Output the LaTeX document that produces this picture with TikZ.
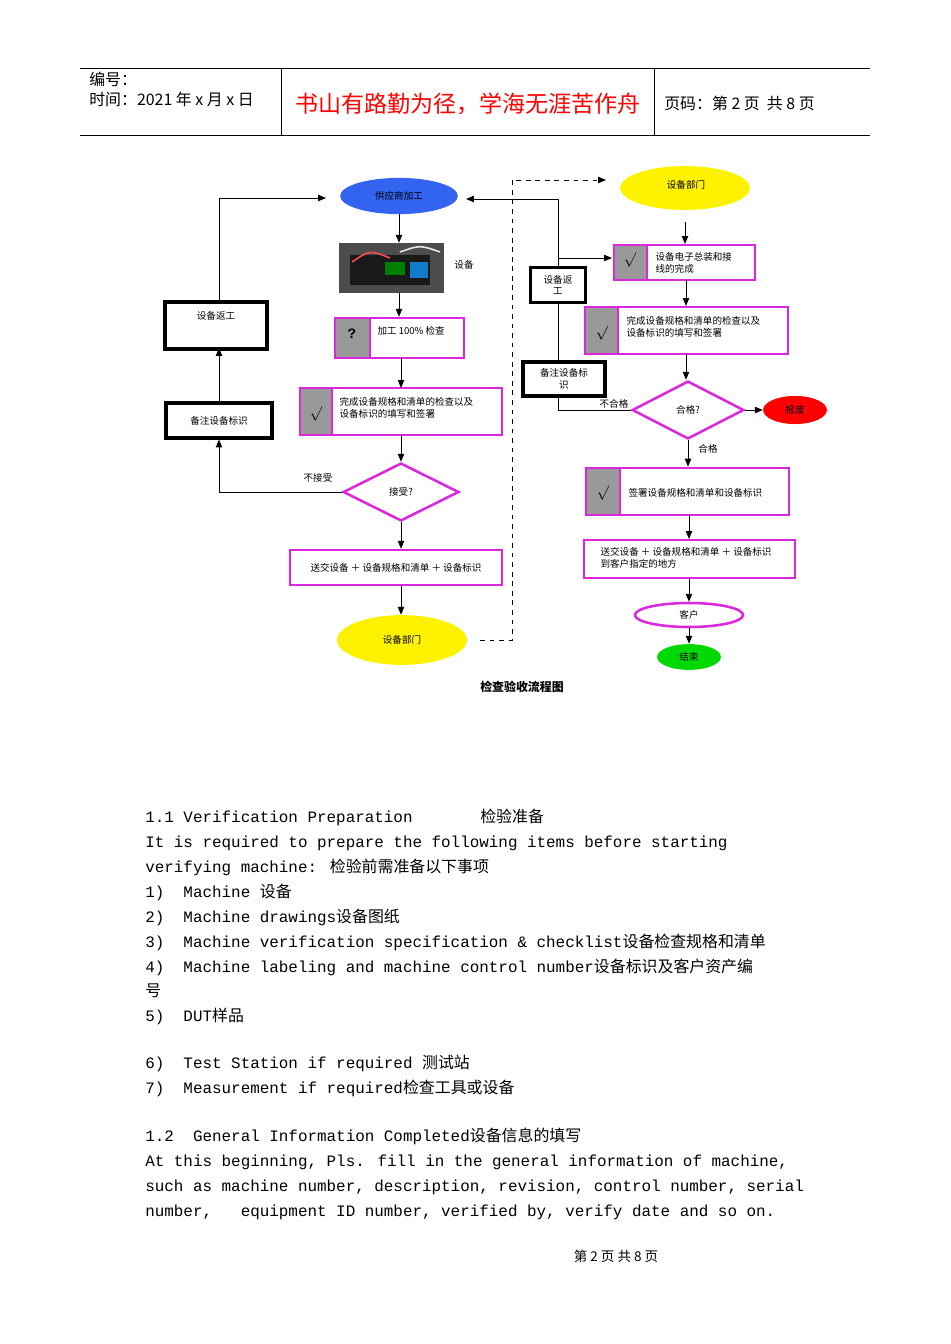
\documentclass[tikz,border=0pt]{standalone}
\usepackage{fontspec}
\setmainfont{Liberation Mono}
\newfontfamily\cjk{Noto Sans CJK SC}
\newcommand\zh[1]{{\cjk #1}}
\usetikzlibrary{shapes.geometric,arrows.meta}
\definecolor{mag}{RGB}{220,40,220}
\definecolor{fblue}{RGB}{50,100,240}
\begin{document}
\begin{tikzpicture}[x=0.0221cm,y=-0.0221cm,
  ft/.style={font=\cjk\fontsize{6}{7.5}\selectfont},
  arr/.style={-{Triangle[length=5pt,width=4pt]},line width=0.6pt},
  ln/.style={line width=0.6pt},
  mbox/.style={draw=mag,line width=1.6pt,fill=white},
  kbox/.style={draw=black,line width=2pt,fill=white},
  gcell/.style={fill=gray!80,draw=none},
  body/.style={anchor=base west,inner sep=0,font=\fontsize{10}{12}\selectfont}]
\useasboundingbox (0,0) rectangle (950,1344);
% header
\draw[line width=0.5pt] (80,68)--(870,68) (80,135)--(870,135) (281,68)--(281,135) (654,68)--(654,135);
\node[anchor=west,inner sep=0,font=\cjk\fontsize{10}{12}\selectfont] at (89,79) {编号：};
\node[anchor=west,inner sep=0,font=\cjk\fontsize{10}{12}\selectfont] at (89,99) {时间：2021 年 x 月 x 日};
\node[inner sep=0,text=red,font=\cjk\fontsize{14.5}{16}\selectfont] at (468,104) {书山有路勤为径，学海无涯苦作舟};
\node[anchor=west,inner sep=0,font=\cjk\fontsize{10}{12}\selectfont] at (664,103) {页码：第 2 页\ \ 共 8 页};
% left column
\node[ellipse,fill=fblue,inner sep=0,minimum width=2.6cm,minimum height=0.8cm,ft] (sup) at (399,196) {供应商加工};
\node[fill=black!70,minimum width=2.32cm,minimum height=1.1cm,inner sep=0] (ph) at (391,268) {};
\fill[black!90] (350,255) rectangle (430,285);
\fill[green!50!black] (385,262) rectangle (405,275);
\fill[cyan!60!blue] (410,262) rectangle (428,278);
\draw[red!70,line width=1pt] (352,262) .. controls (370,250) .. (390,258);
\draw[white!80!gray,line width=1pt] (400,252) .. controls (420,245) .. (440,252);
\node[ft] (phl) at (464,265) {设备};
\node[mbox,minimum width=2.85cm,minimum height=0.88cm,inner sep=0] (b1) at (399.5,338) {};
\fill[gcell] (336,319) rectangle (370,357);
\draw[mag,line width=1.6pt] (370,318)--(370,358);
\node[font=\bfseries\fontsize{9}{9}\selectfont,inner sep=0] (q) at (352,334) {?};
\node[ft,anchor=west] at (372,331) {加工 100\% 检查};
\node[mbox,minimum width=4.46cm,minimum height=1.04cm,inner sep=0] (b2) at (401,411.5) {};
\fill[gcell] (301,389) rectangle (332,434);
\draw[mag,line width=1.6pt] (332,388)--(332,435);
\node[inner sep=0,font=\fontsize{9}{9}\selectfont] at (316,414) {$\surd$};
\node[ft,anchor=west,align=left] at (334,408) {完成设备规格和清单的检查以及\\设备标识的填写和签署};
\node[diamond,draw=mag,line width=1.6pt,fill=white,minimum width=2.56cm,minimum height=1.28cm,inner sep=0,aspect=2,ft] (d1) at (401,492) {接受?};
\node[mbox,minimum width=4.68cm,minimum height=0.77cm,inner sep=0,ft] (b3) at (396,567.5) {送交设备 ＋ 设备规格和清单 ＋ 设备标识};
\node[ellipse,fill=yellow,minimum width=2.87cm,minimum height=1.1cm,inner sep=0,ft] (y1) at (402,640) {设备部门};
\draw[arr] (sup.south)--(sup.south|-ph.north);
\draw[arr] (sup.south|-ph.south)--(sup.south|-b1.north);
\draw[arr] (401,358)--(401,388);
\draw[arr] (401,435)--(d1.north);
\draw[arr] (d1.south)--(d1.south|-b3.north);
\draw[arr] (d1.south|-b3.south)--(d1.south|-y1.north);
\node[kbox,minimum width=2.25cm,minimum height=1.04cm,inner sep=0] (rw) at (216,325.5) {};
\node[ft] at (216,316) {设备返工};
\node[kbox,minimum width=2.34cm,minimum height=0.77cm,inner sep=0,ft] (nt) at (219,420.5) {备注设备标识};
\draw[arr] (d1.west)--(219,492)--(nt.south);
\node[ft] at (318,478) {不接受};
\draw[arr] (nt.north)--(219,348);
\draw[arr] (219,302)--(219,198)--(326,198);
\draw[ln,dashed,-{Triangle[length=5pt,width=4pt]}] (480,640)--(512,640)--(512,180)--(606,180);
% right column
\node[ellipse,fill=yellow,minimum width=2.87cm,minimum height=0.97cm,inner sep=0] (y2) at (685,188) {};
\node[ft] at (686,185) {设备部门};
\node[mbox,minimum width=3.11cm,minimum height=0.77cm,inner sep=0] (r1) at (684.5,262.5) {};
\fill[gcell] (615,246) rectangle (647,279);
\draw[mag,line width=1.6pt] (647,245)--(647,280);
\node[inner sep=0,font=\fontsize{9}{9}\selectfont] at (630,260) {$\surd$};
\node[ft,anchor=west,align=left] at (650,263) {设备电子总装和接\\线的完成};
\node[mbox,minimum width=4.49cm,minimum height=1.04cm,inner sep=0] (r2) at (686.5,330.5) {};
\fill[gcell] (586,308) rectangle (618,353);
\draw[mag,line width=1.6pt] (618,307)--(618,354);
\node[inner sep=0,font=\fontsize{9}{9}\selectfont] at (602,333) {$\surd$};
\node[ft,anchor=west,align=left] at (621,327) {完成设备规格和清单的检查以及\\设备标识的填写和签署};
\node[diamond,draw=mag,line width=1.6pt,fill=white,minimum width=2.47cm,minimum height=1.28cm,inner sep=0,aspect=2,ft] (d2) at (688,410) {合格?};
\node[ellipse,fill=red,minimum width=1.41cm,minimum height=0.62cm,inner sep=0,ft] (sc) at (795,410) {报废};
\node[mbox,minimum width=4.49cm,minimum height=1.04cm,inner sep=0] (r3) at (687.5,491.5) {};
\fill[gcell] (587,469) rectangle (620,514);
\draw[mag,line width=1.6pt] (620,468)--(620,515);
\node[inner sep=0,font=\fontsize{9}{9}\selectfont] at (603,493) {$\surd$};
\node[ft,anchor=west] at (623,493) {签署设备规格和清单和设备标识};
\node[mbox,minimum width=4.66cm,minimum height=0.84cm,inner sep=0] (r4) at (689.5,559) {};
\node[ft,anchor=west,align=left] at (595,558) {送交设备 ＋ 设备规格和清单 ＋ 设备标识\\到客户指定的地方};
\node[ellipse,draw=mag,line width=1.6pt,fill=white,minimum width=2.39cm,minimum height=0.53cm,inner sep=0,ft] (cu) at (689,615) {客户};
\node[ellipse,fill=green!85!black,minimum width=1.41cm,minimum height=0.57cm,inner sep=0,ft] (en) at (689,657) {结束};
\draw[arr] (685,222)--(685,244);
\draw[arr] (686,280)--(686,306);
\draw[arr] (686,354)--(d2.north-|686,0);
\draw[arr] (d2.east)--(sc.west);
\draw[arr] (d2.south)--(d2.south|-r3.north);
\node[ft] at (708,449) {合格};
\draw[arr] (689,515)--(689,539);
\draw[arr] (689,579)--(cu.north);
\draw[arr] (cu.south)--(en.north);
\node[kbox,minimum width=1.22cm,minimum height=0.77cm,inner sep=0,ft,align=center] (rw2) at (558,285) {设备返\\工};
\node[kbox,minimum width=1.81cm,minimum height=0.75cm,inner sep=0,ft,align=center] (nt2) at (564,379) {备注设备标\\识};
\draw[ln] (d2.west)--(558,410)--(558,396);
\draw[ln] (558,362)--(rw2.south);
\draw[arr] (rw2.north)--(558,199)--(466,199);
\draw[arr] (558,258)--(612,258);
\node[ft] at (614,404) {不合格};
\node[font=\cjk\bfseries\fontsize{7.5}{8}\selectfont,inner sep=0] at (522,687) {检查验收流程图};
% body text
\node[body] at (145,822) {1.1 Verification Preparation};
\node[body] at (480,822) {\zh{检验准备}};
\node[body] at (145,847) {It is required to prepare the following items before starting};
\node[body] at (145,872) {verifying machine: \zh{检验前需准备以下事项}};
\node[body] at (145,897) {1)\ \ Machine \zh{设备}};
\node[body] at (145,922) {2)\ \ Machine drawings\zh{设备图纸}};
\node[body] at (145,947) {3)\ \ Machine verification specification \& checklist\zh{设备检查规格和清单}};
\node[body] at (145,972) {4)\ \ Machine labeling and machine control number\zh{设备标识及客户资产编}};
\node[body] at (145,996) {\zh{号}};
\node[body] at (145,1021) {5)\ \ DUT\zh{样品}};
\node[body] at (145,1068) {6)\ \ Test Station if required \zh{测试站}};
\node[body] at (145,1093) {7)\ \ Measurement if required\zh{检查工具或设备}};
\node[body] at (145,1141) {1.2\ \ General Information Completed\zh{设备信息的填写}};
\node[body] at (145,1166) {At this beginning, Pls. fill in the general information of machine,};
\node[body] at (145,1191) {such as machine number, description, revision, control number, serial};
\node[body] at (145,1216) {number,\ \ \ equipment ID number, verified by, verify date and so on.};
\node[inner sep=0,font=\cjk\fontsize{8.5}{10}\selectfont] at (616,1256) {第 2 页 共 8 页};
\end{tikzpicture}
\end{document}
